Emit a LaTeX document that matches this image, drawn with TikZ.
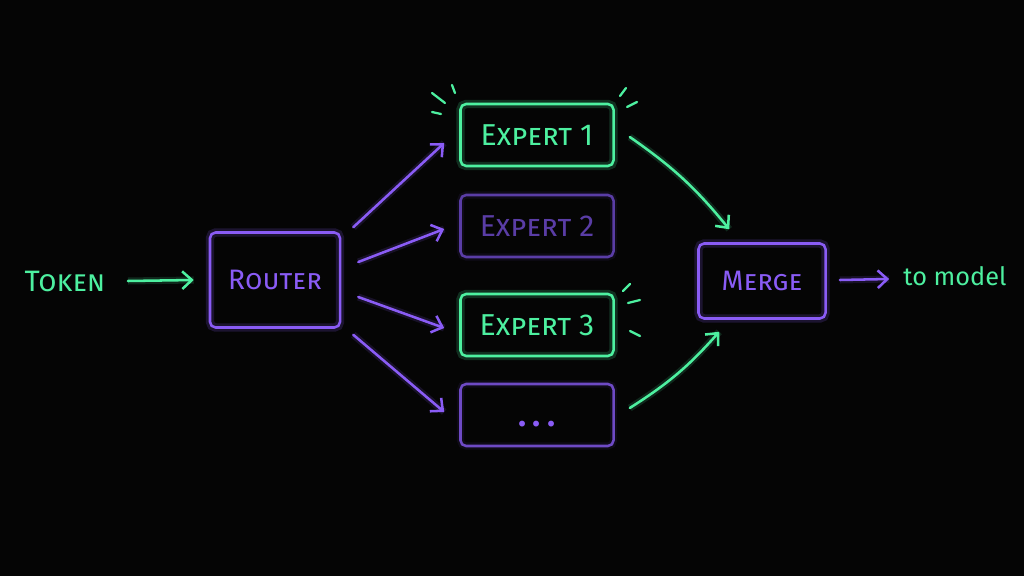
\documentclass[tikz,border=0pt]{standalone}
\usepackage{fontspec}
\setmainfont{Fira Sans}
\usetikzlibrary{arrows.meta}
\definecolor{G}{HTML}{4DF0A0}
\definecolor{P}{HTML}{8A5CF6}
\definecolor{PD}{HTML}{5A3DA6}
\definecolor{BG}{HTML}{050505}
\tikzset{
  glowg/.style={draw=G, line width=1.8pt, preaction={draw=G, line width=6pt, opacity=0.18}},
  glowp/.style={draw=P, line width=1.8pt, preaction={draw=P, line width=6pt, opacity=0.18}},
  glowpd/.style={draw=PD, line width=1.8pt, preaction={draw=PD, line width=5pt, opacity=0.12}},
  box/.style={rectangle, rounded corners=4pt, inner sep=0pt, font=\fontsize{20}{24}\selectfont},
  expbox/.style={box, minimum width=3.825cm, minimum height=1.55cm, font=\fontsize{21.5}{24}\selectfont},
  lbl/.style={font=\fontsize{21}{24}\selectfont, inner sep=0pt},
  arr/.style={line width=1.8pt, line cap=round, -{Straight Barb[length=2.4mm,width=4.4mm,line width=1.8pt]}},
  arrg/.style={arr, draw=G, preaction={draw=G, line width=5pt, opacity=0.15, -}},
  arrp/.style={arr, draw=P, preaction={draw=P, line width=5pt, opacity=0.15, -}},
  spark/.style={draw=G, line width=1.6pt, line cap=round}
}
\begin{document}
\begin{tikzpicture}[x=0.025cm,y=-0.025cm]
\fill[BG] (0,0) rectangle (1024,576);
\useasboundingbox (0,0) rectangle (1024,576);

\node[lbl, text=G] (token) at (65,281) {\textsc{Token}};
\node[box, glowp, text=P, minimum width=3.25cm, minimum height=2.375cm] (router) at (275,280) {\textsc{Router}};
\node[expbox, glowg, text=G] (e1) at (537,135) {\textsc{Expert 1}};
\node[expbox, glowpd, text=PD] (e2) at (537,226) {\textsc{Expert 2}};
\node[expbox, glowg, text=G] (e3) at (537,325) {\textsc{Expert 3}};
\node[expbox, glowpd, draw=P!80!black, text=P] (e4) at (537,415) {\raisebox{-8pt}[0pt][0pt]{\fontsize{30}{30}\selectfont .\kern3pt.\kern3pt.}};
\node[box, glowp, text=P, minimum width=3.175cm, minimum height=1.875cm] (merge) at (762,281) {\textsc{Merge}};
\node[lbl, text=G, font=\fontsize{18}{22}\selectfont] (out) at (955,276) {to model};

\draw[arrg] ([shift={(63,0)}]token.center) -- ([shift={(-15,0)}]router.west);
\draw[arrp] ([shift={(12,-4)}]router.north east) -- ([shift={(-15,8)}]e1.west);
\draw[arrp] ([shift={(17,-18)}]router.east) -- ([shift={(-15,3)}]e2.west);
\draw[arrp] ([shift={(17,17)}]router.east) -- ([shift={(-15,3)}]e3.west);
\draw[arrp] ([shift={(12,6)}]router.south east) -- ([shift={(-15,-3)}]e4.west);
\draw[arrg] ([shift={(15,2)}]e1.east) to[bend left=8] ([shift={(32,-13)}]merge.north west);
\draw[arrg] ([shift={(15,-7)}]e4.east) to[bend right=8] ([shift={(22,12)}]merge.south west);
\draw[arrp] ([shift={(13,-1)}]merge.east) -- ([shift={(-14,3)}]out.west);

% sparks
\draw[spark] (432,93) -- (445,103);
\draw[spark] (452,85) -- (455,93);
\draw[spark] (432,112) -- (441,114);
\draw[spark] (620,96) -- (626,88);
\draw[spark] (627,107) -- (637,102);
\draw[spark] (623,291) -- (630,284);
\draw[spark] (628,303) -- (640,300);
\draw[spark] (630,331) -- (640,336);
\end{tikzpicture}
\end{document}
